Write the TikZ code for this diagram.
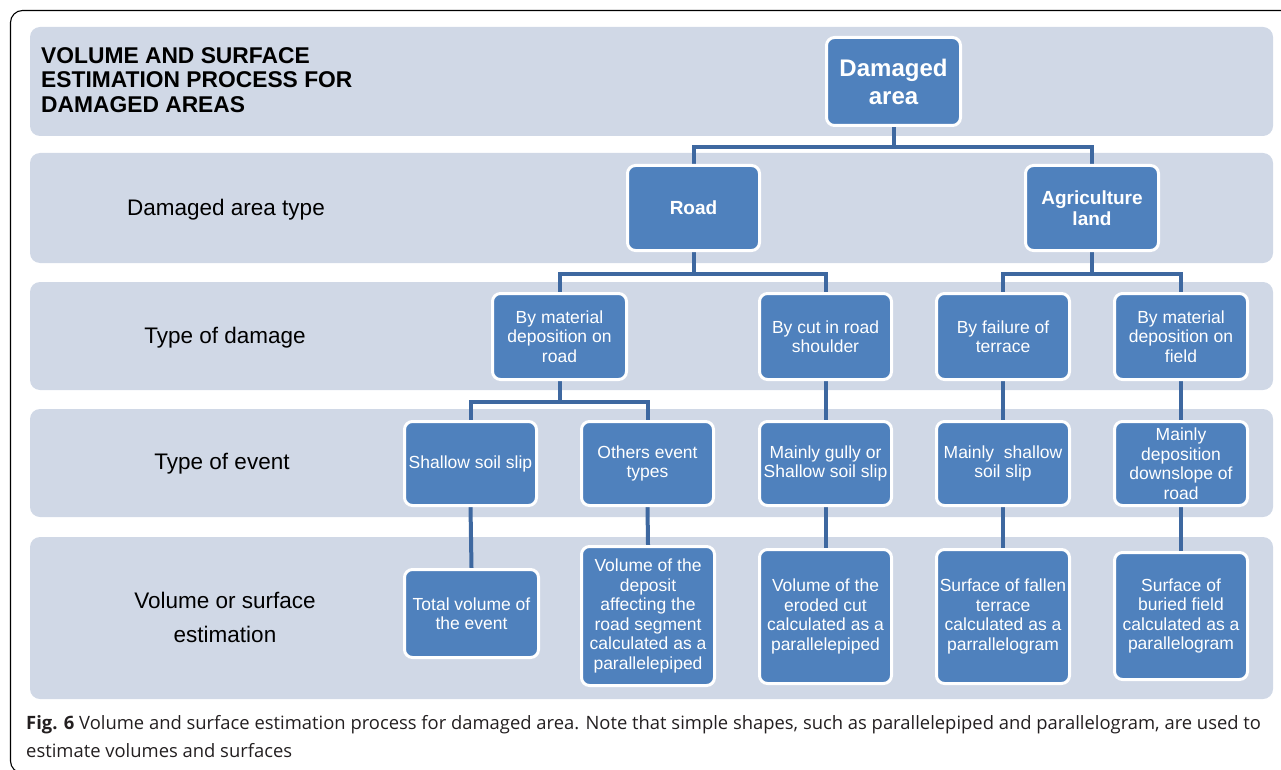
\documentclass[tikz,border=0pt]{standalone}
\usepackage{fontspec}
\setmainfont{Liberation Sans}
\newfontfamily\capfont{Open Sans}
\definecolor{bandc}{RGB}{208,216,230}
\definecolor{boxblue}{RGB}{79,129,189}
\definecolor{connc}{RGB}{62,104,160}
\definecolor{captxt}{RGB}{35,31,32}
\pgfdeclarelayer{bg}
\pgfsetlayers{bg,main}
\tikzset{
  band/.style={fill=bandc, draw=none, rounded corners=10pt},
  box/.style={draw=white, line width=3pt, fill=boxblue, rounded corners=8pt, text=white,
    align=center, inner sep=1pt, font=\fontsize{17.5}{19.5}\selectfont},
  conn/.style={draw=connc, line width=4pt},
  lbl/.style={align=center, font=\fontsize{22.5}{34}\selectfont, text=black}
}
\begin{document}
\begin{tikzpicture}[x=1pt,y=-1pt]
\useasboundingbox (0,0) rectangle (1281,770);
% frame
\draw[black, line width=1.1pt, rounded corners=12pt] (1300,10.5) -- (10.5,10.5) -- (10.5,773) -- (1300,773);
% bands
\begin{pgfonlayer}{bg}
\fill[band] (30,27) rectangle (1273,136);
\fill[band] (30,153) rectangle (1273,263);
\fill[band] (30,282) rectangle (1273,390);
\fill[band] (30,409) rectangle (1273,517);
\fill[band] (30,537) rectangle (1273,699);
\end{pgfonlayer}
% title and row labels
\node[anchor=north west, align=left, inner sep=0, font=\bfseries\fontsize{22.8}{24.5}\selectfont] (title) at (41,47) {VOLUME AND SURFACE\\ESTIMATION PROCESS FOR\\DAMAGED AREAS};
\node[lbl] (l1) at (226,210) {Damaged area type};
\node[lbl] (l2) at (225,337.5) {Type of damage};
\node[lbl] (l3) at (222,464) {Type of event};
\node[lbl] (l4) at (225,617) {Volume or surface\\estimation};
% boxes
\node[box, minimum width=134pt, minimum height=88pt, font=\bfseries\fontsize{24}{28}\selectfont] (da) at (893.5,81.5) {Damaged\\area};
\node[box, minimum width=132pt, minimum height=85pt, font=\bfseries\fontsize{19}{21}\selectfont] (road) at (693.5,208) {Road};
\node[box, minimum width=133pt, minimum height=85pt, font=\bfseries\fontsize{19}{21}\selectfont] (agri) at (1092,208) {Agriculture\\land};
\node[box, minimum width=134pt, minimum height=86pt] (t1) at (559.5,336.5) {By material\\deposition on\\road};
\node[box, minimum width=132pt, minimum height=86pt] (t2) at (825.5,336.5) {By cut in road\\shoulder};
\node[box, minimum width=133pt, minimum height=86pt] (t3) at (1003,336.5) {By failure of\\terrace};
\node[box, minimum width=133pt, minimum height=86pt] (t4) at (1181,336.5) {By material\\deposition on\\field};
\node[box, minimum width=132pt, minimum height=84pt] (e1) at (470.5,463.5) {Shallow soil slip};
\node[box, minimum width=132pt, minimum height=84pt] (e2) at (647.5,463.5) {Others event\\types};
\node[box, minimum width=132pt, minimum height=84pt] (e3) at (825.5,463.5) {Mainly gully or\\Shallow soil slip};
\node[box, minimum width=133pt, minimum height=84pt] (e4) at (1003,463.5) {Mainly~~shallow\\soil slip};
\node[box, minimum width=133pt, minimum height=84pt] (e5) at (1181,463.5) {Mainly\\deposition\\downslope of\\road};
\node[box, minimum width=134pt, minimum height=88pt] (v1) at (471.5,613.5) {Total volume of\\the event};
\node[box, minimum width=133pt, minimum height=139pt] (v2) at (648,616) {Volume of the\\deposit\\affecting the\\road segment\\calculated as a\\parallelepiped};
\node[box, minimum width=132pt, minimum height=134pt] (v3) at (825.5,616.5) {Volume of the\\eroded cut\\calculated as a\\parallelepiped};
\node[box, minimum width=133pt, minimum height=134pt] (v4) at (1003,616.5) {Surface of fallen\\terrace\\calculated as a\\parrallelogram};
\node[box, minimum width=133pt, minimum height=127pt] (v5) at (1181,616) {Surface of\\buried field\\calculated as a\\parallelogram};
% connectors
\begin{pgfonlayer}{bg}
\draw[conn] (da.south) -- ++(0,20.5) -| (road.north);
\draw[conn] (da.south) -- ++(0,20.5) -| (agri.north);
\draw[conn] (road.south) -- ++(0,21.5) -| (t1.north);
\draw[conn] (road.south) -- ++(0,21.5) -| (t2.north);
\draw[conn] (agri.south) -- ++(0,21.5) -| (t3.north);
\draw[conn] (agri.south) -- ++(0,21.5) -| (t4.north);
\draw[conn] (t1.south) -- ++(0,20.5) -| (e1.north);
\draw[conn] (t1.south) -- ++(0,20.5) -| (e2.north);
\draw[conn] (t2.south) -- (e3.north);
\draw[conn] (t3.south) -- (e4.north);
\draw[conn] (t4.south) -- (e5.north);
\draw[conn] (e1.south) -- (v1.north);
\draw[conn] (e2.south) -- (v2.north);
\draw[conn] (e3.south) -- (v3.north);
\draw[conn] (e4.south) -- (v4.north);
\draw[conn] (e5.south) -- (v5.north);
\end{pgfonlayer}
% caption
\node[anchor=north west, align=left, inner sep=0, text=captxt, font=\capfont\fontsize{18.4}{28}\selectfont] (cap) at (26,715) {\textbf{Fig. 6} Volume and surface estimation process for damaged area. Note that simple shapes, such as parallelepiped and parallelogram, are used to\\estimate volumes and surfaces};
\end{tikzpicture}
\end{document}
